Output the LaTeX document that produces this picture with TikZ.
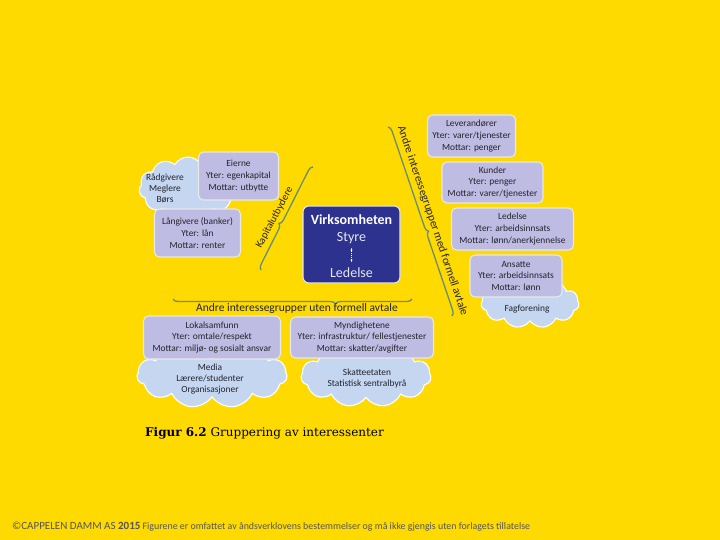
\documentclass[tikz,border=0pt]{standalone}
\usepackage{fontspec}
\setmainfont{Carlito}
\newfontfamily\capfont{DejaVu Serif}
\usetikzlibrary{shapes.symbols,decorations.pathreplacing,arrows.meta}
\definecolor{bgyellow}{RGB}{255,218,0}
\definecolor{lav}{RGB}{190,188,226}
\definecolor{cloudblue}{RGB}{196,214,240}
\definecolor{navy}{RGB}{44,50,142}
\definecolor{bracecol}{RGB}{104,140,118}
\definecolor{txt}{RGB}{35,35,45}
\definecolor{foot}{RGB}{85,85,85}
\tikzset{
  infobox/.style={draw=white!82!gray, line width=1.1pt, fill=lav, rounded corners=5pt,
    align=center, text=txt, font=\fontsize{9.4}{11.6}\selectfont, inner sep=0pt},
  cloudbox/.style={cloud, cloud puffs=11, cloud puff arc=120, cloud ignores aspect,
    draw=white, line width=1.1pt, fill=cloudblue, inner sep=0pt},
  cloudtext/.style={align=center, text=txt, font=\fontsize{9.4}{11}\selectfont},
  bracepath/.style={draw=bracecol, line width=1.3pt, decorate},
  bracelabel/.style={text=txt, inner sep=0pt},
}
\begin{document}
\begin{tikzpicture}[x=1pt,y=-1pt]
\useasboundingbox (0,0) rectangle (720,540);
\fill[bgyellow] (0,0) rectangle (720,540);

% clouds (behind boxes)
\node[cloudbox, minimum width=98pt, minimum height=62pt] (cRad) at (188,188) {};
\node[cloudtext] (tRad) at (165,188) {Rådgivere\\Meglere\\Børs};
\node[cloudbox, minimum width=98pt, minimum height=50pt] (cFag) at (530,303) {};
\node[cloudtext] (tFag) at (527,309) {Fagforening};
\node[cloudbox, minimum width=150pt, minimum height=66pt] (cMed) at (212,375) {};
\node[cloudtext] (tMed) at (210,379) {Media\\Lærere/studenter\\Organisasjoner};
\node[cloudbox, minimum width=130pt, minimum height=62pt] (cSka) at (366,376) {};
\node[cloudtext] (tSka) at (367,378) {Skatteetaten\\Statistisk sentralbyrå};

% boxes
\node[infobox, minimum width=80pt, minimum height=48pt] (eier) at (238.5,176) {Eierne\\Yter: egenkapital\\Mottar: utbytte};
\node[infobox, minimum width=86pt, minimum height=48pt] (lang) at (197.5,233) {Långivere (banker)\\Yter: lån\\Mottar: renter};
\node[infobox, minimum width=88pt, minimum height=42pt] (lev) at (471.5,136) {Leverandører\\Yter: varer/tjenester\\Mottar: penger};
\node[infobox, minimum width=101pt, minimum height=41pt] (kun) at (492.5,182.5) {Kunder\\Yter: penger\\Mottar: varer/tjenester};
\node[infobox, minimum width=122pt, minimum height=42pt] (led) at (512.5,229) {Ledelse\\Yter: arbeidsinnsats\\Mottar: lønn/anerkjennelse};
\node[infobox, minimum width=92pt, minimum height=42pt] (ans) at (516,276) {Ansatte\\Yter: arbeidsinnsats\\Mottar: lønn};
\node[infobox, minimum width=137pt, minimum height=43pt] (lok) at (212,337.5) {Lokalsamfunn\\Yter: omtale/respekt\\Mottar: miljø- og sosialt ansvar};
\node[infobox, minimum width=143pt, minimum height=41pt] (myn) at (362,337.5) {Myndighetene\\Yter: infrastruktur/ fellestjenester\\Mottar: skatter/avgifter};

% central box
\node[draw=white!80!gray, line width=1.1pt, fill=navy, rounded corners=6pt,
  minimum width=97pt, minimum height=77pt] (virk) at (351.5,244.5) {};
\node[text=white, font=\fontsize{14}{16}\selectfont\bfseries] (tVirk) at (351.5,220) {Virksomheten};
\node[text=white!88!navy, font=\fontsize{14}{16}\selectfont] (tSty) at (351.5,238.5) {Styre};
\node[text=white!88!navy, font=\fontsize{14}{16}\selectfont] (tLed) at (351.5,272.5) {Ledelse};
\coordinate (aTop) at (351.5,248);
\coordinate (aBot) at (351.5,262);
\draw[white, line width=0.8pt, densely dotted, {Stealth[length=2.5pt]}-{Stealth[length=2.5pt]}] (aTop) -- (aBot);

% braces
\coordinate (kTop) at (313,167);
\coordinate (kBot) at (261,270);
\draw[bracepath, decoration={brace, mirror, amplitude=5pt, aspect=0.57}] (kTop) -- (kBot);
\node[bracelabel, rotate=62, font=\fontsize{10.5}{12}\selectfont] (lKap) at (274.5,217.5) {Kapitalutbydere};

\coordinate (rTop) at (388,127);
\coordinate (rBot) at (452,316);
\draw[bracepath, decoration={brace, mirror, amplitude=5pt, aspect=0.44}] (rBot) -- (rTop);
\node[bracelabel, rotate=-71.3, font=\fontsize{11.4}{12}\selectfont] (lMed) at (432.5,221) {Andre interessegrupper med formell avtale};

\coordinate (bL) at (173,299);
\coordinate (bR) at (412,299);
\draw[bracepath, decoration={brace, mirror, amplitude=5pt, aspect=0.68}] (bL) -- (bR);
\node[bracelabel, font=\fontsize{11.5}{12}\selectfont] (lUten) at (297,308.5) {Andre interessegrupper uten formell avtale};

% caption
\node[anchor=west, inner sep=0pt, text=black, font=\capfont\fontsize{12}{14}\selectfont] (cap) at (145,433) {\textbf{Figur 6.2} Gruppering av interessenter};

% footer
\node[anchor=west, inner sep=0pt, text=foot] (foot) at (12,527) {{\fontsize{11}{12}\selectfont ©CAPPELEN DAMM AS \textbf{2015}} {\fontsize{9.9}{11}\selectfont Figurene er omfattet av åndsverklovens bestemmelser og må ikke gjengis uten forlagets tillatelse}};
\end{tikzpicture}
\end{document}
